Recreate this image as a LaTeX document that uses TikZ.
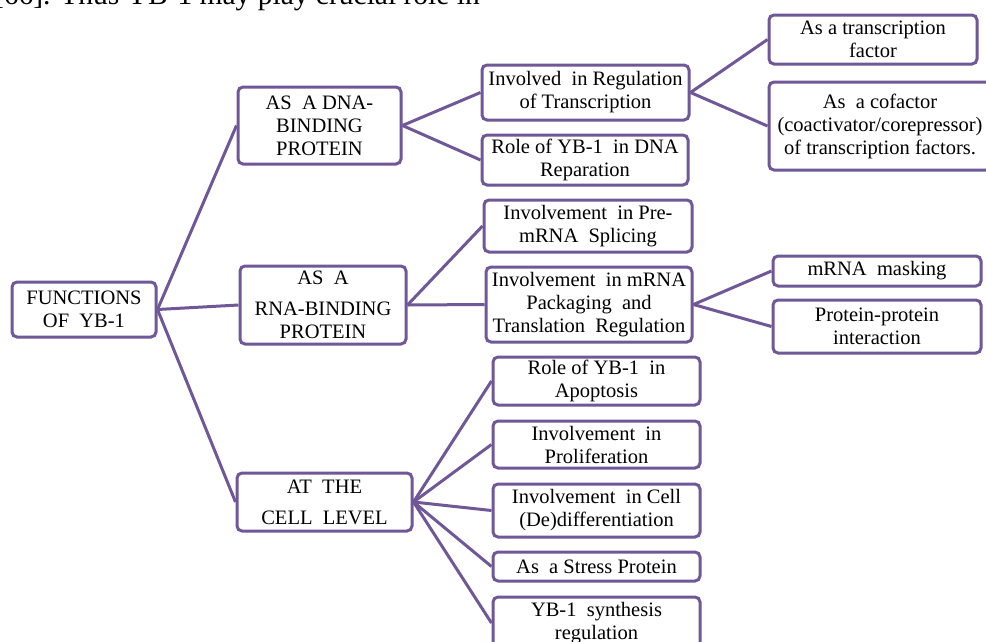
\documentclass[tikz,border=0pt]{standalone}
\usepackage{fontspec}
\setmainfont{Liberation Serif}
\definecolor{boxpurple}{RGB}{112,88,152}
\tikzset{
  box/.style={draw=boxpurple, line width=3pt, rounded corners=5pt, fill=white,
    align=center, inner sep=0pt, text=black,
    font=\fontsize{20.5}{23}\selectfont},
  link/.style={draw=boxpurple, line width=3pt}
}
\newcommand{\bx}[6]{\node[box, minimum width=#4pt, minimum height=#5pt] (#1) at (#2,#3) {#6};}
\begin{document}
\begin{tikzpicture}[x=1pt,y=-1pt]
\useasboundingbox (0,0) rectangle (986,641);
\clip (0,0) rectangle (986,641);
\fill[white] (0,0) rectangle (986,641);
\node[anchor=base east, inner sep=0pt, font=\fontsize{29.5}{33}\selectfont] (toptext) at (480,4.5) {[66]. Thus YB-1 may play crucial role in};
% nodes
\bx{F}{84}{309.5}{144}{55}{FUNCTIONS\\OF~ YB-1}
\bx{DNA}{319.5}{125.5}{163}{77}{AS~ A DNA-\\BINDING\\PROTEIN}
\bx{RNA}{323}{305}{166}{78}{AS~ A\\[8pt]RNA-BINDING\\PROTEIN}
\bx{CELL}{324.5}{502}{175}{58}{AT~ THE\\[8pt]CELL~ LEVEL}
\bx{IRT}{585.5}{92.5}{207}{55}{Involved~ in Regulation\\of Transcription}
\bx{RDR}{585}{160}{206}{50}{Role of YB-1~ in DNA\\Reparation}
\bx{TF}{873}{39.5}{208}{49}{As a transcription\\factor}
\bx{CO}{880}{126}{222}{88}{As~ a cofactor\\(coactivator/corepressor)\\of transcription factors.}
\bx{PRE}{588}{226}{208}{52}{Involvement~ in Pre-\\mRNA~ Splicing}
\bx{PKG}{589}{304.5}{206}{75}{Involvement~ in mRNA\\Packaging~ and\\Translation~ Regulation}
\bx{MM}{877}{271}{208}{30}{mRNA~ masking}
\bx{PP}{877}{326.5}{208}{53}{Protein-protein\\interaction}
\bx{APO}{596.5}{381}{207}{48}{Role of YB-1~ in\\Apoptosis}
\bx{PROL}{596.5}{444.5}{207}{47}{Involvement~ in\\Proliferation}
\bx{DIFF}{596.5}{510.5}{207}{53}{Involvement~ in Cell\\(De)differentiation}
\bx{STR}{596.5}{566.5}{207}{29}{As~ a Stress Protein}
\bx{SYN}{596.5}{623}{207}{52}{YB-1~ synthesis\\regulation}
% connectors
\draw[link] (F.east) -- (DNA.west);
\draw[link] (F.east) -- (RNA.west);
\draw[link] (F.east) -- (CELL.west);
\draw[link] (DNA.east) -- (IRT.west);
\draw[link] (DNA.east) -- (RDR.west);
\draw[link] (IRT.east) -- (TF.west);
\draw[link] (IRT.east) -- (CO.west);
\draw[link] (RNA.east) -- (PRE.west);
\draw[link] (RNA.east) -- (PKG.west);
\draw[link] (PKG.east) -- (MM.west);
\draw[link] (PKG.east) -- (PP.west);
\draw[link] (CELL.east) -- (APO.west);
\draw[link] (CELL.east) -- (PROL.west);
\draw[link] (CELL.east) -- (DIFF.west);
\draw[link] (CELL.east) -- (STR.west);
\draw[link] (CELL.east) -- (SYN.west);
\end{tikzpicture}
\end{document}
